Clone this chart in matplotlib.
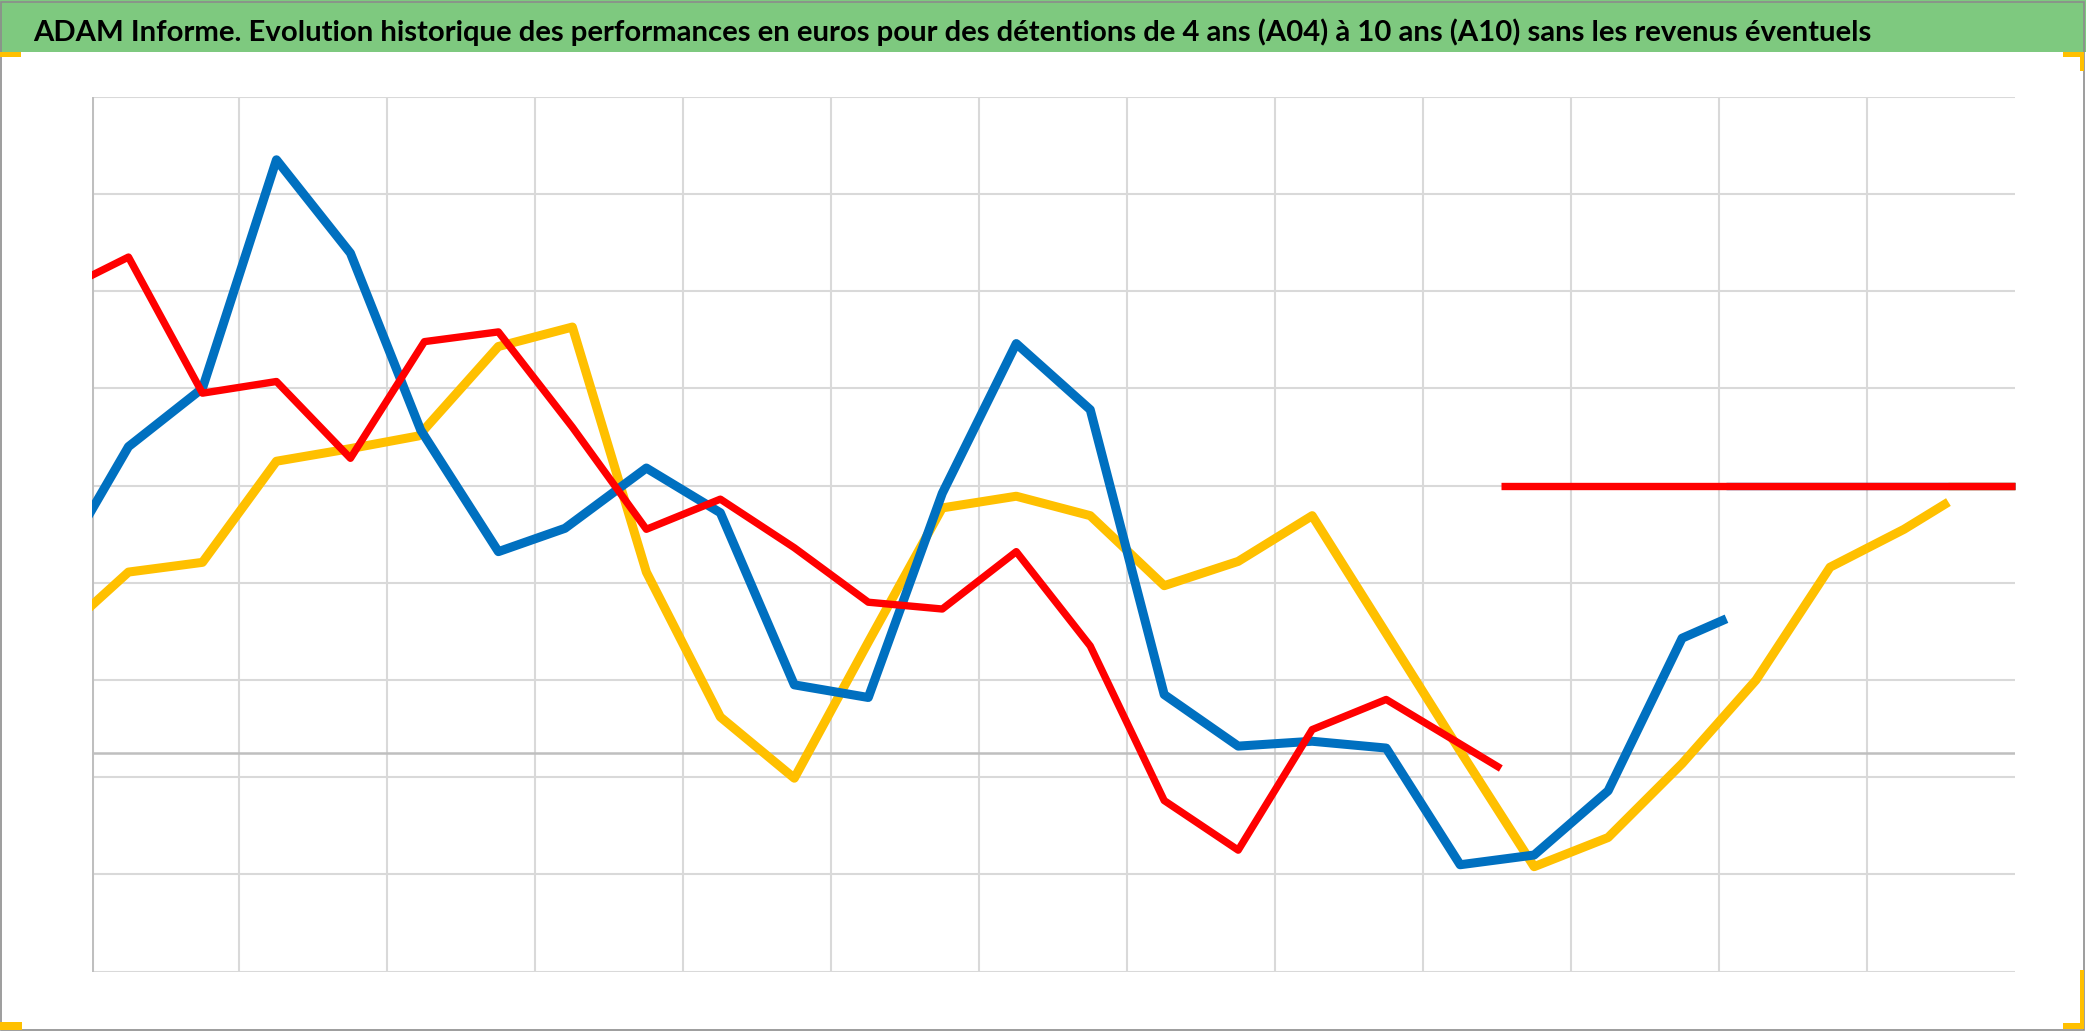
import matplotlib
matplotlib.use('Agg')
import matplotlib.pyplot as plt
from matplotlib.patches import Rectangle

title = ("ADAM Informe. Evolution historique des performances en euros pour des "
         "détentions de 4 ans (A04) à 10 ans (A10) sans les revenus éventuels")

# x: one step per period (gridline every 2 steps), y: performance (axis crosses at 0)
blue_x = [-0.5, 0.5, 1.5, 2.5, 3.5, 4.45, 5.5, 6.4, 7.5, 8.5, 9.5, 10.5, 11.5, 12.5,
          13.5, 14.5, 15.5, 16.5, 17.5, 18.5, 19.5, 20.5, 21.5, 22.1]
blue_y = [18.4, 31.5, 37.5, 61.0, 51.4, 33.2, 20.7, 23.1, 29.3, 24.7, 7.0, 5.7, 26.7, 42.1,
          35.3, 6.0, 0.7, 1.2, 0.5, -11.5, -10.5, -3.9, 11.8, 13.8]

red_x = [-0.5, 0.5, 1.5, 2.5, 3.5, 4.5, 5.5, 6.5, 7.5, 8.5, 9.5, 10.5, 11.5, 12.5,
         13.5, 14.5, 15.5, 16.5, 17.5, 19.05]
red_y = [47.2, 51.0, 37.0, 38.2, 30.3, 42.3, 43.3, 33.5, 23.0, 26.1, 21.1, 15.5, 14.8, 20.7,
         11.0, -4.9, -10.0, 2.4, 5.5, -1.6]

yellow_x = [-0.5, 0.5, 1.5, 2.5, 3.5, 4.42, 5.5, 6.5, 7.5, 8.5, 9.5, 10.5, 11.5, 12.5,
            13.5, 14.5, 15.5, 16.5, 17.5, 18.5, 19.5, 20.5, 21.5, 22.5, 23.5, 24.5, 25.1]
yellow_y = [11.7, 18.6, 19.6, 30.0, 31.3, 32.6, 41.8, 43.8, 18.6, 3.7, -2.6, 11.4, 25.2, 26.4,
            24.4, 17.2, 19.7, 24.4, 12.3, 0.2, -11.7, -8.7, -1.1, 7.5, 19.1, 23.0, 25.8]

flat_level = 27.5   # level each series holds after its last value
x_end = 26
y_min, y_max, y_step = -22.5, 67.5, 10

fig = plt.figure(figsize=(20.86, 10.31), dpi=100)
W, H = 2086, 1031

# green title band + grey frame
fig.patches.append(Rectangle((0, 1 - 52 / H), 1, 52 / H, transform=fig.transFigure,
                             facecolor='#7ec97f', edgecolor='none', zorder=0))
fig.patches.append(Rectangle((1 / W, 1 / H), 1 - 3 / W, 1 - 2.5 / H, transform=fig.transFigure,
                             facecolor='none', edgecolor='#8c8c8c', linewidth=1.2, zorder=5))

# yellow selection handles in the corners
gold = '#ffc000'
for (x0, y0, w, h) in [(0, 52, 21, 5), (2063, 52, 21, 5), (2080, 52, 4, 19),
                       (0, 1022, 22, 8), (2063, 1023, 21, 6), (2080, 970, 4, 59)]:
    fig.patches.append(Rectangle((x0 / W, 1 - (y0 + h) / H), w / W, h / H,
                                 transform=fig.transFigure, facecolor=gold,
                                 edgecolor='none', zorder=6))

t = fig.text(33 / W, 1 - 41 / H, title, ha='left', va='baseline', fontweight='bold',
             fontsize=24, family=['Lato', 'DejaVu Sans'], color='black')
fig.canvas.draw()
bb = t.get_window_extent()
t.set_fontsize(24 * 1843 / bb.width)

ax = fig.add_axes([91.5 / W, 1 - 971.7 / H, (2015 - 91.5) / W, (971.7 - 96.6) / H])
ax.set_xlim(0, x_end)
ax.set_ylim(y_min, y_max)

grid_c = '#d9d9d9'
for k in range(2, x_end, 2):
    ax.axvline(k, color=grid_c, linewidth=1.5, zorder=1)
y = y_min
while y <= y_max + 1e-9:
    ax.axhline(y, color=grid_c, linewidth=1.5, zorder=1)
    y += y_step
ax.axhline(0, color='#bfbfbf', linewidth=1.8, zorder=1.5)
ax.axvline(0, color='#bfbfbf', linewidth=2.2, zorder=1.5)

series = [(yellow_x, yellow_y, '#ffc000', 6.5, 3),
          (blue_x, blue_y, '#0070c0', 6.5, 4),
          (red_x, red_y, '#ff0000', 5.3, 5)]
for xs, ys, c, lw, z in series:
    ax.plot(xs, ys, color=c, linewidth=lw, solid_joinstyle='round',
            solid_capstyle='butt', zorder=z)
    ax.plot([xs[-1], x_end], [flat_level, flat_level], color=c, linewidth=5.3,
            solid_capstyle='butt', zorder=z, clip_on=False)

for s in ax.spines.values():
    s.set_visible(False)
ax.set_xticks([])
ax.set_yticks([])

fig.savefig('out.png', dpi=100)
